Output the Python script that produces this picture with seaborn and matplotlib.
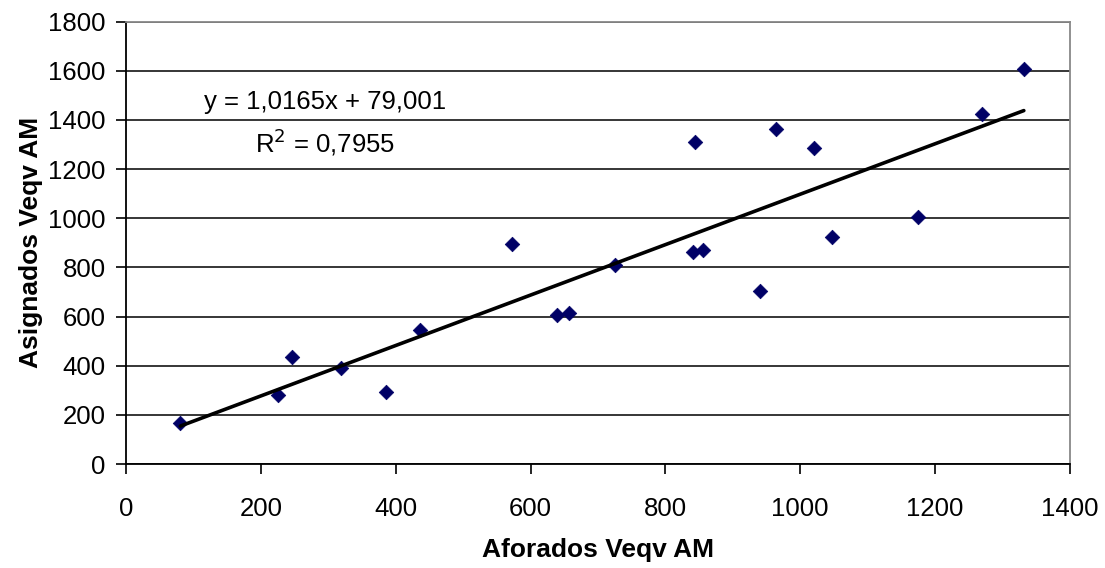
import numpy as np
import pandas as pd
import matplotlib
matplotlib.use('Agg')
import matplotlib.pyplot as plt
import seaborn as sns

# datos
aforados = [80, 225, 246, 318, 385, 436, 572, 639, 657, 725,
            841, 844, 856, 941, 964, 1021, 1048, 1175, 1270, 1332]
asignados = [165, 282, 436, 392, 293, 544, 895, 605, 613, 808,
             863, 1310, 872, 704, 1364, 1285, 923, 1004, 1425, 1608]
x_ticks = [0, 200, 400, 600, 800, 1000, 1200, 1400]
y_ticks = [0, 200, 400, 600, 800, 1000, 1200, 1400, 1600, 1800]
eq_text = 'y = 1,0165x + 79,001'
r2_text = 'R$^2$ = 0,7955'

df = pd.DataFrame({'Aforados Veqv AM': aforados, 'Asignados Veqv AM': asignados})

sns.set_style('white')
plt.rcParams['font.family'] = ['Liberation Sans', 'DejaVu Sans']
plt.rcParams['text.color'] = 'black'
plt.rcParams['axes.labelcolor'] = 'black'
plt.rcParams['xtick.color'] = 'black'
plt.rcParams['ytick.color'] = 'black'

fig = plt.figure(figsize=(11.05, 5.68), dpi=100)
ax = fig.add_axes([0.1144, 0.183, 0.8536, 0.779])

sns.regplot(data=df, x='Aforados Veqv AM', y='Asignados Veqv AM', ax=ax, ci=None,
            marker='D', scatter_kws={'s': 55, 'color': '#000066', 'alpha': 1,
                                     'edgecolors': '#000066', 'linewidths': 0.5, 'zorder': 3},
            line_kws={'color': 'black', 'lw': 2.6, 'zorder': 4})

ax.set_xlim(0, 1400)
ax.set_ylim(0, 1800)
ax.set_xticks(x_ticks)
ax.set_yticks(y_ticks)
ax.yaxis.grid(True, color='black', lw=1.1)
ax.set_axisbelow(True)

for s in ['left', 'bottom']:
    ax.spines[s].set_color('black')
    ax.spines[s].set_linewidth(1.3)
for s in ['top', 'right']:
    ax.spines[s].set_color('#888888')
    ax.spines[s].set_linewidth(1.3)

ax.tick_params(axis='x', direction='out', length=7, width=1.2,
               labelsize=18.5, pad=17, bottom=True)
ax.tick_params(axis='y', direction='out', length=7, width=1.2,
               labelsize=18.5, pad=8, left=True)

ax.set_xlabel('Aforados Veqv AM', fontsize=19, fontweight='bold', labelpad=12)
ax.set_ylabel('Asignados Veqv AM', fontsize=19, fontweight='bold', labelpad=4)

ax.text(295, 1472, eq_text, fontsize=18.5, ha='center', va='center')
ax.text(295, 1310, r2_text, fontsize=18.5, ha='center', va='center')

fig.savefig('out.png', dpi=100, facecolor='white')
